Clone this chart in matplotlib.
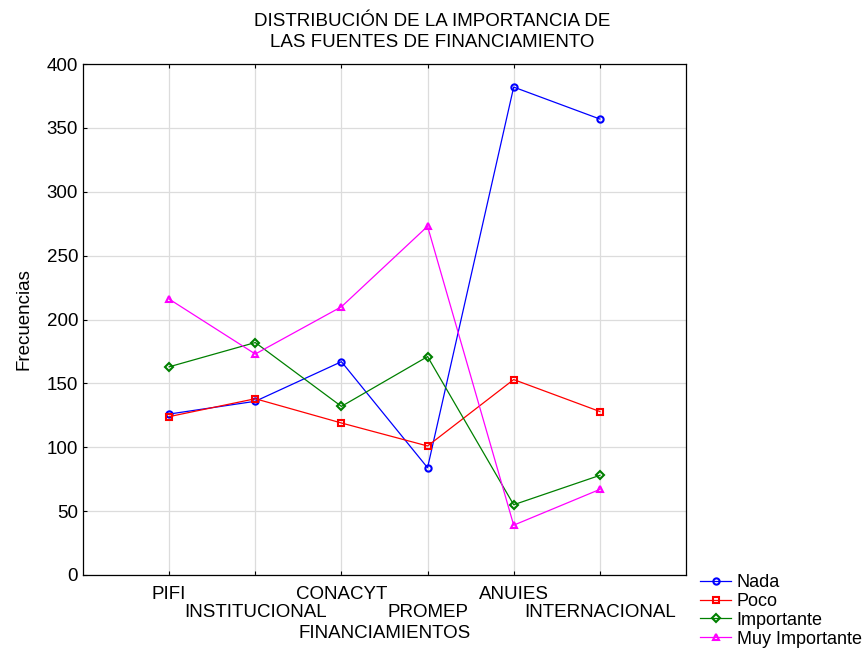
import matplotlib
matplotlib.use("Agg")
import matplotlib.pyplot as plt

# --- Data ---
categories = ["PIFI", "INSTITUCIONAL", "CONACYT", "PROMEP", "ANUIES", "INTERNACIONAL"]
nada = [126, 136, 167, 84, 382, 357]
poco = [124, 138, 119, 101, 153, 128]
importante = [163, 182, 132, 171, 55, 78]
muy_importante = [216, 173, 210, 273, 39, 67]
y_ticks = [0, 50, 100, 150, 200, 250, 300, 350, 400]

plt.rcParams["font.family"] = ["Liberation Sans", "DejaVu Sans"]
FS = 13.5

fig = plt.figure(figsize=(8.65, 6.5), dpi=100)
ax = fig.add_axes([0.096, 0.1154, 0.697, 0.786])

x = list(range(1, len(categories) + 1))
series = [
    ("Nada", nada, "blue", "o"),
    ("Poco", poco, "red", "s"),
    ("Importante", importante, "green", "D"),
    ("Muy Importante", muy_importante, "magenta", "^"),
]
for name, vals, color, marker in series:
    ax.plot(x, vals, color=color, lw=0.9, marker=marker, markersize=4.5,
            markerfacecolor="none", markeredgecolor=color, markeredgewidth=1.5,
            label=name)

ax.set_xlim(0, 7)
ax.set_ylim(0, 400)
ax.set_yticks(y_ticks)
ax.set_yticklabels([str(v) for v in y_ticks], fontsize=FS)

# odd categories on the first row, even ones dropped to a second row
ax.set_xticks(x[0::2])
ax.set_xticklabels(categories[0::2], fontsize=FS)
ax.set_xticks(x[1::2], minor=True)
ax.set_xticklabels(categories[1::2], minor=True, fontsize=FS)
ax.tick_params(axis="both", which="both", direction="in", length=3, width=0.8, top=True)
ax.tick_params(axis="x", which="major", pad=8)
ax.tick_params(axis="x", which="minor", pad=21)
ax.grid(True, which="major", color="#dcdcdc", lw=0.9)
ax.grid(True, which="minor", axis="x", color="#dcdcdc", lw=0.9)
ax.set_axisbelow(True)
for sp in ax.spines.values():
    sp.set_linewidth(0.9)

ax.set_xlabel("FINANCIAMIENTOS", fontsize=FS, labelpad=3)
ax.set_ylabel("Frecuencias", fontsize=FS, labelpad=10)
fig.text(0.5, 0.98, "DISTRIBUCIÓN DE LA IMPORTANCIA DE\nLAS FUENTES DE FINANCIAMIENTO",
         ha="center", va="top", fontsize=FS, linespacing=1.3)

ax.legend(loc="upper left", bbox_to_anchor=(1.0, 0.03), frameon=False,
          fontsize=13, handlelength=1.7, handletextpad=0.3,
          labelspacing=0.1, borderaxespad=0.6, borderpad=0.2)

fig.savefig("out.png", dpi=100)
